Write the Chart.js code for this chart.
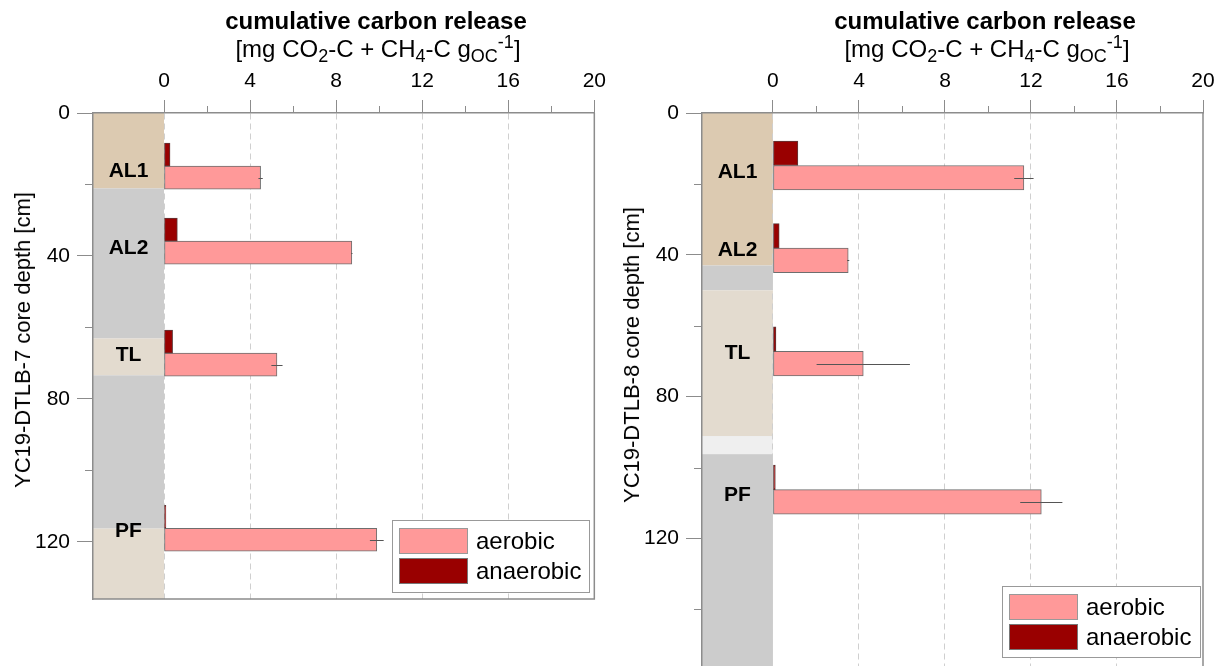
<!DOCTYPE html>
<html><head><meta charset="utf-8">
<script src="https://cdn.jsdelivr.net/npm/chart.js@4.4.0/dist/chart.umd.min.js"></script>
<style>
html,body{margin:0;padding:0;width:1225px;height:666px;overflow:hidden;background:#fff;font-family:'Liberation Sans',Arial,sans-serif;color:#000;}
canvas{position:absolute;top:0;}
#c1{left:0;}
#c2{left:612px;}
.title{position:absolute;transform:translateX(-50%);white-space:nowrap;line-height:24px;font-size:24px;}
.t1{font-weight:bold;}
sub,sup{font-size:0.75em;line-height:0;}
sub{vertical-align:-0.25em;}
sup{vertical-align:0.5em;}
.ytitle{position:absolute;white-space:nowrap;font-size:22px;line-height:22px;transform:translate(-50%,-50%) rotate(-90deg);}
</style></head>
<body>
<canvas id="c1" width="612" height="666"></canvas>
<canvas id="c2" width="613" height="700"></canvas>
<div class="title t1" style="left:376px;top:9px">cumulative carbon release</div>
<div class="title" style="left:378px;top:37px">[mg CO<sub>2</sub>-C + CH<sub>4</sub>-C g<sub>OC</sub><sup>-1</sup>]</div>
<div class="title t1" style="left:985px;top:9px">cumulative carbon release</div>
<div class="title" style="left:987px;top:37px">[mg CO<sub>2</sub>-C + CH<sub>4</sub>-C g<sub>OC</sub><sup>-1</sup>]</div>
<div class="ytitle" style="left:23px;top:340px">YC19-DTLB-7 core depth [cm]</div>
<div class="ytitle" style="left:632px;top:355px">YC19-DTLB-8 core depth [cm]</div>
<script>
// ---------- data ----------
const releaseTicks = [0, 4, 8, 12, 16, 20];
const releaseMinorTicks = [2, 6, 10, 14, 18];
const depthTicks = [0, 40, 80, 120];
const depthMinorTicks7 = [20, 60, 100];
const depthMinorTicks8 = [20, 60, 100, 140];

// core DTLB-7
const layerNames7 = ['AL1', 'AL2', 'TL', 'PF'];
const labelDepth7 = [16.1, 37.5, 67.4, 116.7];
const barDepth7 = [14.85, 35.85, 67.2, 116.2];
const aerobic7 = [4.49, 8.73, 5.25, 9.89];
const aerobicErr7 = [0.1, 0.03, 0.26, 0.32];
const anaerobic7 = [0.28, 0.62, 0.4, 0.09];
const coreTop7 = [0, 21.1, 63.1, 73.4, 116.3];
const coreBottom7 = [21.1, 63.1, 73.4, 116.3, 136];
const coreKind7 = ['active', 'none', 'transition', 'none', 'transition'];

// core DTLB-8
const layerNames8 = ['AL1', 'AL2', 'TL', 'PF'];
const labelDepth8 = [16.5, 38.5, 67.5, 107.6];
const barDepth8 = [14.8, 38.1, 67.2, 106.2];
const aerobic8 = [11.67, 3.5, 4.2, 12.48];
const aerobicErr8 = [0.45, 0.05, 2.17, 0.98];
const anaerobic8 = [1.16, 0.29, 0.14, 0.11];
const coreTop8 = [0, 43, 50, 91.1, 96.2];
const coreBottom8 = [43, 50, 91.1, 96.2, 160];
const coreKind8 = ['active', 'none', 'transition', 'light', 'none'];

// ---------- styles ----------
const FONT = "'Liberation Sans', Arial, sans-serif";
const kindColors = {active: '#dccab1', transition: '#e3dbcf', none: '#cccccc', light: '#efefef'};
const AERO = '#ff9999', ANAERO = '#990000';
const AXIS = '#8c8c8c';

const panelPlugin = {
  id: 'panel',
  beforeDraw(chart, args, o) {
    const {ctx, chartArea: a, scales: {x, y}} = chart;
    ctx.save();
    ctx.beginPath(); ctx.rect(a.left, a.top, a.right - a.left, a.bottom - a.top); ctx.clip();
    const x0 = x.getPixelForValue(0);
    o.coreTop.forEach((t, i) => {
      const y1 = y.getPixelForValue(t), y2 = y.getPixelForValue(o.coreBottom[i]);
      ctx.fillStyle = kindColors[o.coreKind[i]];
      ctx.fillRect(a.left, y1, x0 - a.left, y2 - y1);
    });
    ctx.restore();
  },
  afterDatasetsDraw(chart, args, o) {
    const {ctx, scales: {x, y}} = chart;
    ctx.save();
    const meta = chart.getDatasetMeta(1);
    ctx.strokeStyle = '#555'; ctx.lineWidth = 1;
    meta.data.forEach((el, i) => {
      const v = o.aerobic[i], e = o.err[i];
      const py = Math.round(el.y) + 0.5;
      ctx.beginPath();
      ctx.moveTo(x.getPixelForValue(v - e), py);
      ctx.lineTo(x.getPixelForValue(v + e), py);
      ctx.stroke();
    });
    const cx = (chart.chartArea.left + x.getPixelForValue(0)) / 2;
    ctx.fillStyle = '#000';
    ctx.font = 'bold 21px ' + FONT;
    ctx.textAlign = 'center'; ctx.textBaseline = 'middle';
    o.names.forEach((n, i) => ctx.fillText(n, cx, y.getPixelForValue(o.labelDepth[i]) + 1));
    ctx.restore();
  },
  afterDraw(chart, args, o) {
    const {ctx, chartArea: a, scales: {x, y}} = chart;
    ctx.save();
    ctx.strokeStyle = AXIS; ctx.lineWidth = 1.5;
    ctx.beginPath();
    ctx.moveTo(a.right, a.top); ctx.lineTo(a.right, a.bottom); ctx.lineTo(a.left, a.bottom);
    ctx.stroke();
    ctx.lineWidth = 1;
    releaseMinorTicks.forEach(v => {
      const px = Math.round(x.getPixelForValue(v)) + 0.5;
      ctx.beginPath(); ctx.moveTo(px, a.top); ctx.lineTo(px, a.top - 7); ctx.stroke();
    });
    o.depthMinor.forEach(v => {
      const py = Math.round(y.getPixelForValue(v)) + 0.5;
      ctx.beginPath(); ctx.moveTo(a.left, py); ctx.lineTo(a.left - 8, py); ctx.stroke();
    });
    const L = o.legend;
    ctx.fillStyle = '#fff';
    ctx.fillRect(L.x, L.y, L.w, L.h);
    ctx.strokeStyle = '#999'; ctx.lineWidth = 1;
    ctx.strokeRect(L.x + 0.5, L.y + 0.5, L.w, L.h);
    const items = [['aerobic', AERO, '#999'], ['anaerobic', ANAERO, '#777']];
    ctx.font = '24px ' + FONT; ctx.textBaseline = 'middle'; ctx.textAlign = 'left';
    items.forEach((it, i) => {
      const sy = L.y + 8 + i * 30;
      ctx.fillStyle = it[1]; ctx.fillRect(L.x + 7, sy, 69, 26);
      ctx.strokeStyle = it[2]; ctx.strokeRect(L.x + 7.5, sy + 0.5, 68, 25);
      ctx.fillStyle = '#000'; ctx.fillText(it[0], L.x + 84, sy + 14);
    });
    ctx.restore();
  }
};

function makeChart(id, cfg) {
  return new Chart(document.getElementById(id), {
    type: 'bar',
    data: {
      datasets: [
        {label: 'anaerobic', data: cfg.anaerobic.map((v, i) => ({x: v, y: cfg.depth[i]})),
         backgroundColor: ANAERO, borderColor: '#5e3a3a', borderWidth: 1, borderSkipped: false, barThickness: cfg.thick},
        {label: 'aerobic', data: cfg.aerobic.map((v, i) => ({x: v, y: cfg.depth[i]})),
         backgroundColor: AERO, borderColor: '#6e6e6e', borderWidth: 1, borderSkipped: false, barThickness: cfg.thick}
      ]
    },
    options: {
      indexAxis: 'y',
      responsive: false,
      animation: false,
      layout: {padding: {left: 0, top: 0, right: cfg.padRight, bottom: cfg.padBottom}},
      scales: {
        x: {
          type: 'linear', position: 'top', min: -3.3, max: 20, offset: false,
          afterBuildTicks: s => { s.ticks = releaseTicks.map(v => ({value: v})); },
          afterFit: s => { s.height = 113; },
          ticks: {font: {size: 21, family: FONT}, color: '#000', padding: 6, maxRotation: 0, autoSkip: false},
          grid: {color: c => (c.tick && c.tick.value === 20) ? 'rgba(0,0,0,0)' : '#cfcfcf',
                 tickColor: AXIS, tickLength: 13, lineWidth: 1, offset: false},
          border: {color: AXIS, width: 1.5, dash: [6, 4]}
        },
        y: {
          type: 'linear', reverse: true, min: 0, max: cfg.maxDepth, offset: false,
          afterBuildTicks: s => { s.ticks = depthTicks.map(v => ({value: v})); },
          afterFit: s => { s.width = cfg.left; },
          ticks: {font: {size: 21, family: FONT}, color: '#000', padding: 7},
          grid: {drawOnChartArea: false, tickColor: AXIS, tickLength: 16, offset: false},
          border: {color: AXIS, width: 1.5}
        }
      },
      plugins: {
        legend: {display: false}, tooltip: {enabled: false},
        panel: {
          coreTop: cfg.coreTop, coreBottom: cfg.coreBottom, coreKind: cfg.coreKind,
          aerobic: cfg.aerobic, err: cfg.err, names: cfg.names, labelDepth: cfg.labelDepth,
          depthMinor: cfg.depthMinor, legend: cfg.legend
        }
      }
    },
    plugins: [panelPlugin]
  });
}

makeChart('c1', {
  anaerobic: anaerobic7, aerobic: aerobic7, err: aerobicErr7, depth: barDepth7, thick: 23,
  names: layerNames7, labelDepth: labelDepth7, coreTop: coreTop7, coreBottom: coreBottom7, coreKind: coreKind7,
  maxDepth: 136, left: 93, padRight: 16, padBottom: 67, depthMinor: depthMinorTicks7,
  legend: {x: 392, y: 520, w: 197, h: 72}
});
makeChart('c2', {
  anaerobic: anaerobic8, aerobic: aerobic8, err: aerobicErr8, depth: barDepth8, thick: 24.5,
  names: layerNames8, labelDepth: labelDepth8, coreTop: coreTop8, coreBottom: coreBottom8, coreKind: coreKind8,
  maxDepth: 160, left: 90, padRight: 22, padBottom: 16, depthMinor: depthMinorTicks8,
  legend: {x: 390, y: 586, w: 198, h: 71}
});
</script>
</body></html>
